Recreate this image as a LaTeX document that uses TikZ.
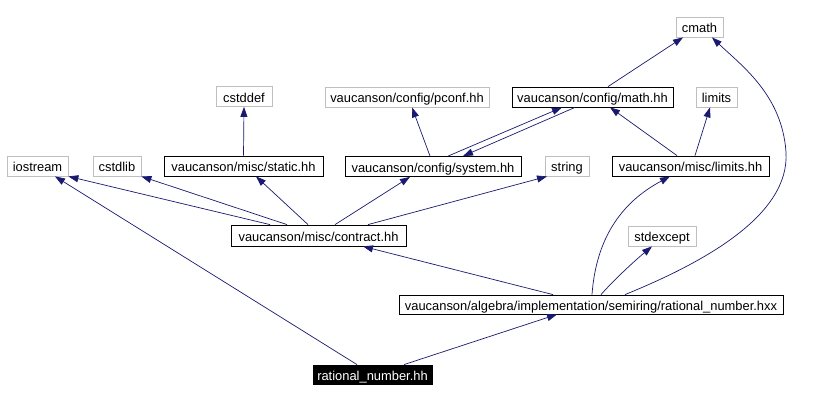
\documentclass[tikz,border=0pt]{standalone}
\usepackage{fontspec}
\setmainfont{Liberation Sans}
\usetikzlibrary{arrows.meta}
\definecolor{edgec}{HTML}{191970}
\definecolor{extc}{HTML}{BFBFBF}
\begin{document}
\begin{tikzpicture}[x=1pt,y=-1pt,
  base/.style={draw, line width=0.8pt, inner sep=0pt, minimum height=20pt, text height=11.5pt, text depth=0pt, font=\fontsize{12.9}{14}\selectfont, anchor=center},
  doc/.style={base, draw=black},
  ext/.style={base, draw=extc},
  rootbox/.style={base, fill=black, text=white, draw=black},
  dep/.style={draw=edgec, line width=0.7pt, -{Triangle[length=10pt,width=7pt]}}]
\useasboundingbox[fill=white] (0,0) rectangle (825,401);
% nodes
\node[ext, minimum width=61pt] (iostream) at (37.5,166) {iostream};
\node[ext, minimum width=48pt] (cstdlib) at (117,166) {cstdlib};
\node[doc, minimum width=159pt] (static) at (243.5,166) {vaucanson/misc/static.hh};
\node[doc, minimum width=176pt] (system) at (433,166.5) {vaucanson/config/system.hh};
\node[ext, minimum width=44pt] (string) at (567,166) {string};
\node[doc, minimum width=157pt] (limitshh) at (690.5,166) {vaucanson/misc/limits.hh};
\node[doc, minimum width=175pt, minimum height=21pt] (contract) at (318.5,235.5) {vaucanson/misc/contract.hh};
\node[ext, minimum width=164pt] (pconf) at (407,97) {vaucanson/config/pconf.hh};
\node[doc, minimum width=161pt] (math) at (592.5,97) {vaucanson/config/math.hh};
\node[ext, minimum width=41pt] (limits) at (716.5,97) {limits};
\node[ext, minimum width=47pt] (cmath) at (699.5,27) {cmath};
\node[ext, minimum width=56pt] (cstddef) at (244,96.5) {cstddef};
\node[ext, minimum width=68pt] (stdexcept) at (662,236) {stdexcept};
\node[doc, minimum width=384pt, minimum height=19pt] (hxx) at (591,304.5) {vaucanson/algebra/implementation/semiring/rational\_number.hxx};
\node[rootbox, minimum width=119pt, minimum height=19pt] (root) at (372.5,374.5) {rational\_number.hh};
% edges
\draw[dep] ([xshift=-15.5pt]root.north) -- ([xshift=17.5pt]iostream.south);
\draw[dep] ([xshift=31.5pt]root.north) -- ([xshift=-34pt]hxx.south);
\draw[dep] ([xshift=-38pt]hxx.north) -- ([xshift=44.5pt]contract.south);
\draw[dep] ([xshift=1pt]hxx.north) .. controls (596,240) and (620,203) .. ([xshift=-20.5pt]limitshh.south);
\draw[dep] ([xshift=10pt]hxx.north) .. controls (612,282) and (632,263) .. ([xshift=-10pt]stdexcept.south);
\draw[dep] ([xshift=34pt]hxx.north) .. controls (705,262) and (790,215) .. (786,152) .. controls (782,95) and (742,66) .. ([xshift=12.5pt]cmath.south);
\draw[dep] ([xshift=-48.5pt]contract.north) -- (iostream.south east);
\draw[dep] ([xshift=-31.5pt]contract.north) -- (cstdlib.south east);
\draw[dep] ([xshift=-10.5pt]contract.north) -- ([xshift=12.5pt]static.south);
\draw[dep] ([xshift=16.5pt]contract.north) -- ([xshift=-23pt]system.south);
\draw[dep] ([xshift=49.5pt]contract.north) -- ([xshift=-20pt]string.south);
\draw[dep] (static.north) -- (cstddef.south);
\draw[dep] ([xshift=-3pt]system.north) -- ([xshift=5pt]pconf.south);
\draw[dep] ([xshift=15pt]system.north) -- ([xshift=-30.5pt]math.south);
\draw[dep] ([xshift=-17.5pt]math.south) -- ([xshift=30pt]system.north);
\draw[dep] ([xshift=15.5pt]math.north) -- ([xshift=-16.5pt]cmath.south);
\draw[dep] ([xshift=-13.5pt]limitshh.north) -- ([xshift=17.5pt]math.south);
\draw[dep] ([xshift=4.5pt]limitshh.north) -- ([xshift=-6.5pt]limits.south);
\end{tikzpicture}
\end{document}
